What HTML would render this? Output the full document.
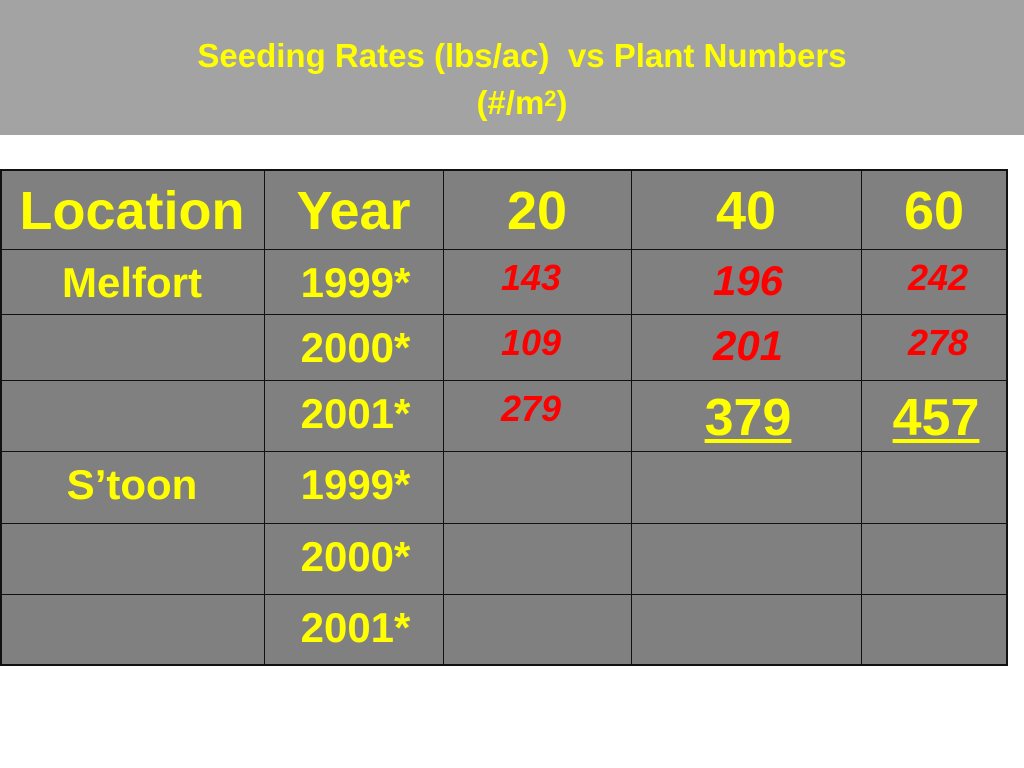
<!DOCTYPE html>
<html><head><meta charset="utf-8"><style>
body{margin:0;width:1024px;height:768px;background:#fff;position:relative;overflow:hidden;font-family:"Liberation Sans",Arial,sans-serif;font-weight:bold}
.t{position:absolute;white-space:nowrap;text-align:center;transform:translateX(-50%)}
.y{color:#ffff00}.r{color:#ff0000;font-style:italic}
.cell{position:absolute;background:#808080;border:1px solid #111;box-sizing:border-box}
</style></head><body>
<div style="position:absolute;left:0;top:0;width:1024px;height:135px;background:#a3a3a3"></div>
<div class="t y" style="left:522px;top:34px;font-size:33px;line-height:43px">Seeding Rates (lbs/ac)&nbsp; vs Plant Numbers<br>(#/m<span style="font-size:22px;vertical-align:8px">2</span>)</div>
<div id="tbl" style="position:absolute;left:0;top:0"></div>
<script>
const cols=[0,264,443,631,861,1007];
const rows=[170,249,314,380,451,523,594,665];
const header=["Location","Year","20","40","60"];
const locations=["Melfort","","","S\u2019toon","",""];
const years=["1999*","2000*","2001*","1999*","2000*","2001*"];
const rate20=["143","109","279","","",""];
const rate40=["196","201","379","","",""];
const rate60=["242","278","457","","",""];
const tbl=document.getElementById('tbl');
function add(html,cls,style,name){const d=document.createElement('div');d.className=cls;d.style.cssText=style;d.innerHTML=html;


tbl.appendChild(d);return d;}
for(let r=0;r<7;r++)for(let c=0;c<5;c++){
add('','cell',`left:${cols[c]}px;top:${rows[r]}px;width:${cols[c+1]-cols[c]+1}px;height:${rows[r+1]-rows[r]+1}px`,'table-cell');}
add('','',`position:absolute;left:0;top:169px;width:1008px;height:497px;border:2px solid #111;box-sizing:border-box`,'table-border');
const cx=c=>(cols[c]+cols[c+1])/2;
header.forEach((h,c)=>add(h,'t y',`left:${cx(c)}px;top:${rows[0]+10}px;font-size:54px`,'header-'+h.toLowerCase()));
const rateArr=[rate20,rate40,rate60];
for(let r=0;r<6;r++){
 const top=rows[r+1];
 if(locations[r])add(locations[r],'t y',`left:${cx(0)}px;top:${top+10}px;font-size:42px`,'location-label');
 add(years[r],'t y',`left:${cx(1)+2}px;top:${top+10}px;font-size:42px`,'year-label');
 rateArr.forEach((arr,i)=>{const v=arr[r];if(!v)return;
  const c=i+2;
  if(r===2&&i>0){add(v,'t y',`left:${cx(c)+2}px;top:${top+8}px;font-size:52px;text-decoration:underline;text-decoration-thickness:4px;text-underline-offset:4px`,'value-cell');}
  else{const fs=i===1?42:36;add(v,'t r',`left:${cx(c)+(i===0?-6:i===1?2:4)}px;top:${top+(i===1?8:8)}px;font-size:${fs}px`,'value-cell');}
 });
}
</script>
</body></html>
